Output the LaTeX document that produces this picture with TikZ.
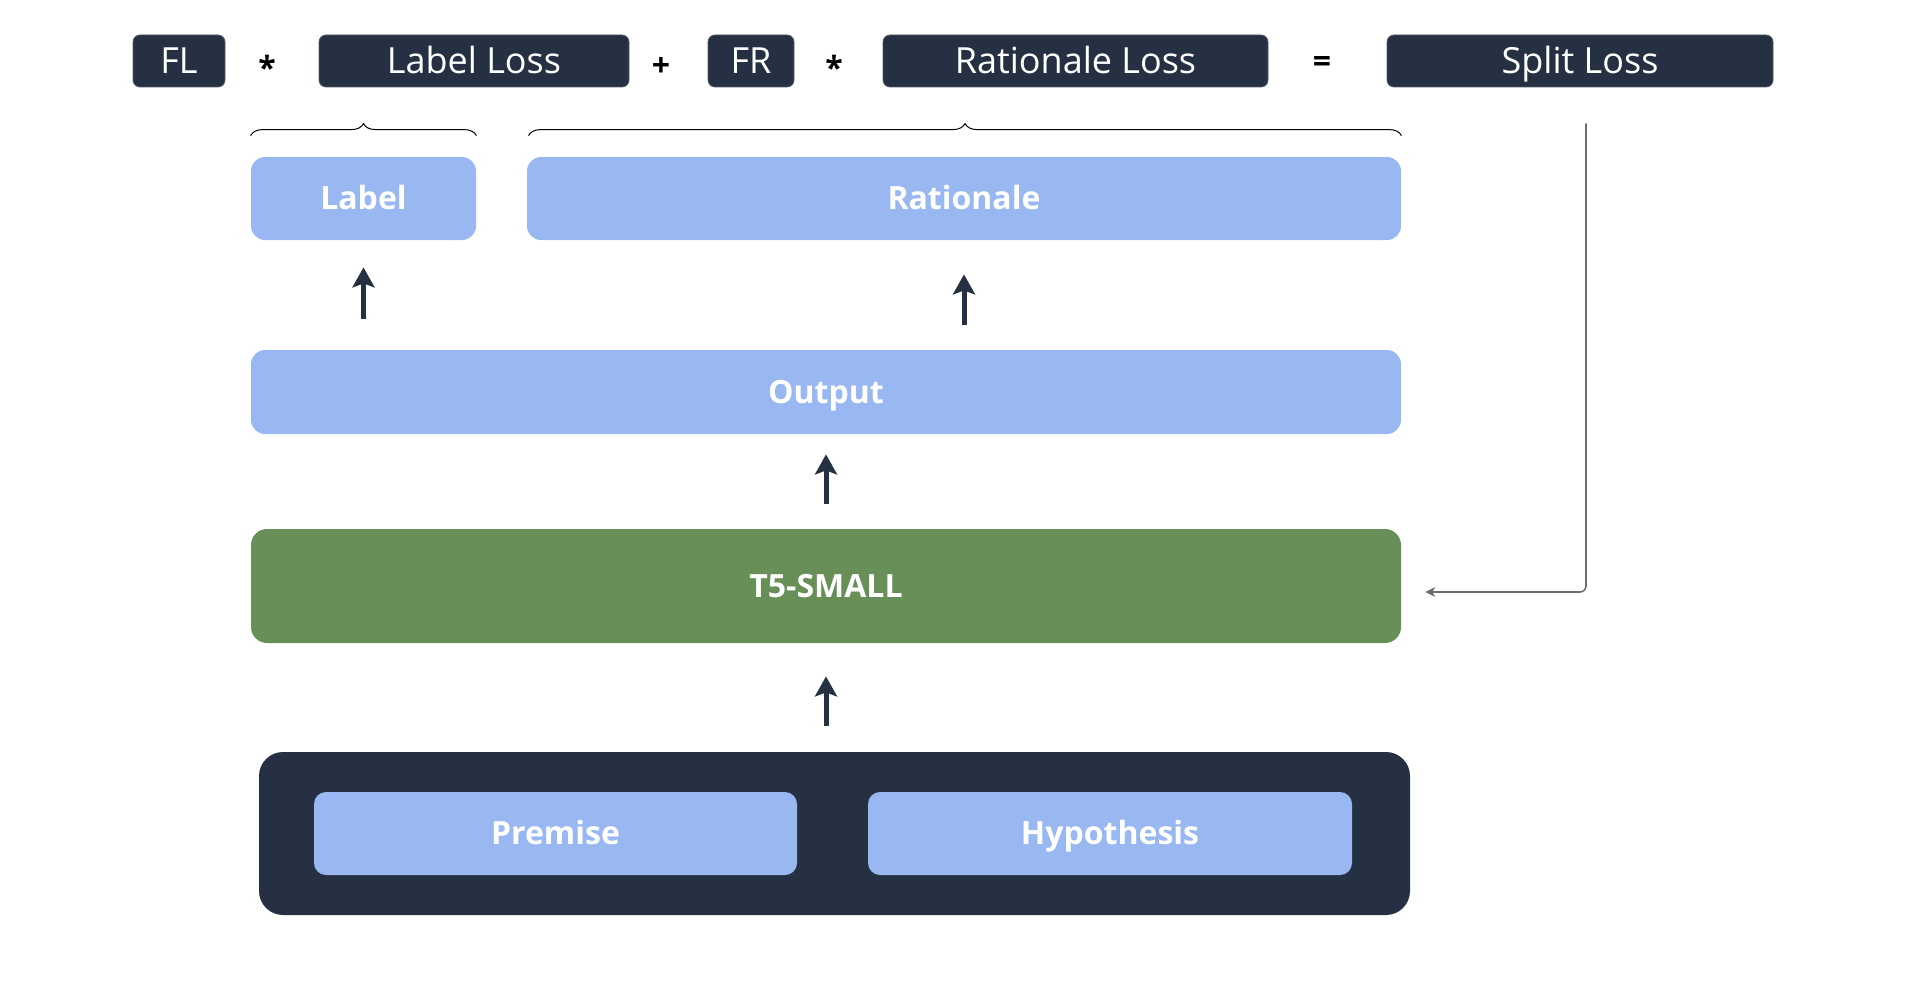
\documentclass[tikz,border=0pt]{standalone}
\usepackage{fontspec}
\setmainfont{Open Sans}
\usetikzlibrary{arrows.meta,decorations.pathreplacing,calc}
\definecolor{navy}{HTML}{253042}
\definecolor{lblue}{HTML}{99B8F1}
\definecolor{tgreen}{HTML}{688F58}
\definecolor{fbgray}{HTML}{6B6B6B}
\begin{document}
\begin{tikzpicture}[x=0.5pt,y=-0.5pt,
 topbox/.style={fill=navy, draw=navy!80!white, line width=0.4pt, text=white, rounded corners=3.5pt, minimum height=26pt, inner sep=0pt, text height=12.9pt, text depth=0pt, font=\fontsize{18}{20}\selectfont},
 opsym/.style={font=\bfseries\fontsize{16}{18}\selectfont, text=black, inner sep=0pt, anchor=base},
 boldlabel/.style={text=white, inner sep=0pt, text height=11.4pt, text depth=0pt, font=\bfseries\fontsize{16}{18}\selectfont},
 bluebox/.style={boldlabel, fill=lblue, rounded corners=7pt, minimum height=41.5pt},
 upflow/.style={draw=navy, line width=2.5pt, -{Stealth[length=10pt,width=11pt,inset=2pt]}},
 bracemark/.style={draw=black, line width=0.5pt, decorate, decoration={brace, amplitude=6pt}},
 feedback/.style={draw=fbgray, line width=0.8pt, rounded corners=3pt, -{Stealth[length=5pt,width=5pt]}},
]
\useasboundingbox (0,0) rectangle (1910,1006);

% top equation row
\node[topbox, minimum width=46pt] (fl) at (179,61) {FL};
\node[opsym] (st1) at (267,80) {*};
\node[topbox, minimum width=155pt] (ll) at (474,61) {Label Loss};
\node[opsym] (pl) at (661,76) {+};
\node[topbox, minimum width=43pt] (fr) at (751,61) {FR};
\node[opsym] (st2) at (834,80) {*};
\node[topbox, minimum width=192.5pt] (rl) at (1075.5,61) {Rationale Loss};
\node[opsym] (eq) at (1322,73) {=};
\node[topbox, minimum width=193pt] (sl) at (1580,61) {Split Loss};

% output parts
\node[bluebox, minimum width=112.5pt] (lab) at (363.5,198.5) {Label};
\node[bluebox, minimum width=437pt] (rat) at (964,198.5) {Rationale};
\node[bluebox, minimum width=575pt, minimum height=42pt] (out) at (826,392) {Output};
\node[boldlabel, fill=tgreen, rounded corners=8pt, minimum width=575pt, minimum height=57pt] (t5) at (826,586) {T5-SMALL};

% input container
\node[fill=navy, rounded corners=12pt, minimum width=575.5pt, minimum height=81.5pt, inner sep=0pt] (inp) at (834.5,833.5) {};
\node[bluebox, minimum width=241.5pt, rounded corners=6pt] (pre) at (555.5,833.5) {Premise};
\node[bluebox, minimum width=242pt, rounded corners=6pt] (hyp) at (1110,833.5) {Hypothesis};

% braces
\draw[bracemark] ([yshift=10.5pt]lab.north west) -- ([yshift=10.5pt]lab.north east);
\draw[bracemark] ([yshift=10.5pt,xshift=1pt]rat.north west) -- ([yshift=10.5pt]rat.north east);

% flow arrows
\draw[upflow, shorten <=15.5pt, shorten >=13.5pt] (out.north -| lab.south) -- (lab.south);
\draw[upflow, shorten <=12.5pt, shorten >=17pt] (out.north -| rat.south) -- (rat.south);
\draw[upflow, shorten <=12.5pt, shorten >=10pt] (t5.north) -- (out.south);
\draw[upflow, shorten <=13pt, shorten >=16.5pt] (inp.north -| t5.south) -- (t5.south);

% feedback connector
\coordinate (fbstart) at ([xshift=3pt,yshift=-18pt]sl.south);
\coordinate (fbend) at ([xshift=12pt,yshift=-3pt]t5.east);
\draw[feedback] (fbstart) |- (fbend);
\end{tikzpicture}
\end{document}
